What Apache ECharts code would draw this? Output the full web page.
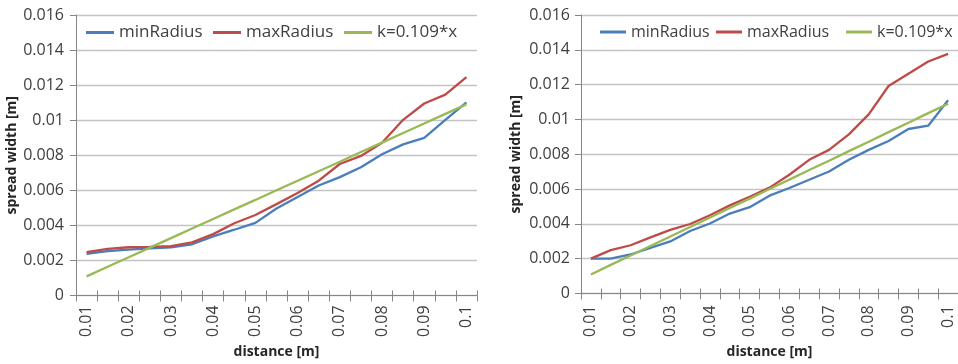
<!DOCTYPE html>
<html><head><meta charset="utf-8">
<script src="https://cdn.jsdelivr.net/npm/echarts@6/dist/echarts.min.js"></script>
<style>html,body{margin:0;padding:0;background:#fff}#c{width:958px;height:364px}</style>
</head><body><div id="c"></div>
<script>
const categories = ['0.01','0.015','0.02','0.025','0.03','0.035','0.04','0.045','0.05','0.055','0.06','0.065','0.07','0.075','0.08','0.085','0.09','0.095','0.1'];
const yTickLabels = ['0','0.002','0.004','0.006','0.008','0.01','0.012','0.014','0.016'];
const leftMin = [0.00238,0.00253,0.00262,0.00268,0.00275,0.00292,0.00337,0.00375,0.00414,0.00496,0.00562,0.00627,0.00675,0.00731,0.00806,0.00862,0.00899,0.01002,0.01101];
const leftMax = [0.00247,0.00266,0.00275,0.00277,0.00281,0.00303,0.0035,0.00412,0.00459,0.00521,0.00584,0.00655,0.0075,0.00796,0.00871,0.01002,0.01095,0.01146,0.01245];
const fitLine = [0.00109,0.00164,0.00218,0.00273,0.00327,0.00382,0.00436,0.00491,0.00545,0.006,0.00654,0.00709,0.00763,0.00818,0.00872,0.00927,0.00981,0.01036,0.0109];
const rightMin = [0.002,0.002,0.00224,0.00262,0.00299,0.00359,0.00402,0.00459,0.00496,0.00562,0.00606,0.00653,0.00701,0.00768,0.00825,0.00876,0.00945,0.00964,0.0111];
const rightMax = [0.002,0.00249,0.00277,0.00322,0.00365,0.00399,0.00449,0.00506,0.00556,0.00608,0.00682,0.00768,0.00825,0.00914,0.01029,0.01192,0.01263,0.01333,0.01377];
const seriesNames = ['minRadius','maxRadius','k=0.109*x'];

const colors = ['#4a7ebb','#be4b48','#98b954'];
const FONT = 'Open Sans';
const axisColor = '#868686';
const txt = '#404040';

const grids = [
  {left:76, top:15, width:401, height:285},
  {left:581, top:15, width:380, height:282.7}
];
const xAxes = [], yAxes = [];
grids.forEach((g,i)=>{
  xAxes.push({type:'category', gridIndex:i, data:categories, boundaryGap:true,
    axisLine:{lineStyle:{color:axisColor,width:1}},
    axisTick:{show:true, interval:0, length:6, lineStyle:{color:axisColor}},
    axisLabel:{interval:1, rotate:90, margin:i===0?10:12, color:txt, fontFamily:FONT, fontSize:16},
    name:'distance [m]', nameLocation:'middle', nameGap:i===0?45:48,
    nameTextStyle:{fontFamily:FONT, fontWeight:'bold', fontSize:14, color:'#262626'}});
  xAxes.push({type:'category', gridIndex:i, data:categories, boundaryGap:true, position:'bottom',
    axisLine:{show:false}, axisLabel:{show:false},
    axisTick:{show:true, inside:true, interval:0, length:5, lineStyle:{color:axisColor}}});
  yAxes.push({type:'value', gridIndex:i, min:0, max:0.016, interval:0.002,
    axisLine:{show:true, lineStyle:{color:axisColor}},
    axisTick:{show:true, length:6, lineStyle:{color:axisColor}},
    splitLine:{lineStyle:{color:'#c4c4c4', width:1.3}},
    axisLabel:{margin:i===0?12:11, color:txt, fontFamily:FONT, fontSize:16,
      formatter:(v)=>yTickLabels[Math.round(v/0.002)]},
    name:'spread width [m]', nameLocation:'middle', nameGap:i===0?55:58,
    nameTextStyle:{fontFamily:FONT, fontWeight:'bold', fontSize:14, color:'#262626'}});
});

const panelData = [[leftMin,leftMax,fitLine],[rightMin,rightMax,fitLine]];
const series = [];
panelData.forEach((arrs,p)=>{
  arrs.forEach((d,k)=>{
    series.push({type:'line', name:seriesNames[k], xAxisIndex:p*2, yAxisIndex:p, data:d,
      showSymbol:false, symbol:'none', lineStyle:{color:colors[k], width:2.3}, itemStyle:{color:colors[k]},
      z: k===2?3:(k===1?2:1), animation:false});
  });
});

const legendPos = [[86,213,344],[600,716,846]];
const legendFont = [17,16];
const legendIconW = [28,26];
const legends = [];
legendPos.forEach((row,p)=>row.forEach((x,k)=>{
  legends.push({data:[seriesNames[k]], left:x, top:24, icon:'rect', itemWidth:legendIconW[p], itemHeight:3,
    itemGap:5, padding:0, selectedMode:false,
    textStyle:{fontFamily:FONT, fontSize:legendFont[p], color:txt, padding:[0,0,0,0]}});
}));

const chart = echarts.init(document.getElementById('c'), null, {renderer:'canvas'});
chart.setOption({
  backgroundColor:'#fff', animation:false,
  grid:grids, xAxis:xAxes, yAxis:yAxes, series:series, legend:legends
});
</script></body></html>
